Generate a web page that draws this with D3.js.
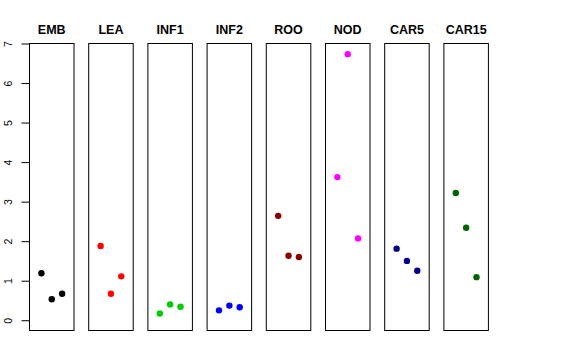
<!DOCTYPE html>
<html><head><meta charset="utf-8">
<script src="https://cdn.jsdelivr.net/npm/d3@7"></script>
<style>body{margin:0;background:#fff}</style>
</head><body>
<svg id="c" width="576" height="360"></svg>
<script>
const categories = ["EMB","LEA","INF1","INF2","ROO","NOD","CAR5","CAR15"];
const colors = ["#000000","#FF0000","#00CD00","#0000FF","#8B0000","#FF00FF","#00008B","#006400"];
const values = [
  [1.19, 0.53, 0.67],
  [1.88, 0.67, 1.11],
  [0.17, 0.40, 0.34],
  [0.25, 0.37, 0.33],
  [2.64, 1.63, 1.60],
  [3.62, 6.73, 2.07],
  [1.81, 1.50, 1.25],
  [3.22, 2.34, 1.09]
];
const yTicks = [0,1,2,3,4,5,6,7];

(function(){
const svg = d3.select("#c");
const pTop = 43.5, pBottom = 330.5;
const y = d3.scaleLinear().domain([-0.26, 7]).range([pBottom, pTop]);
const panelX = d3.scaleBand().domain(categories).range([29.5, 488.4]).paddingInner(0.248).paddingOuter(0);
const pw = panelX.bandwidth();

const ax = svg.append("g").attr("transform","translate(29.5,0)")
  .call(d3.axisLeft(y).tickValues(yTicks).tickSize(8).tickSizeOuter(0).tickFormat(d3.format("d")));
ax.select(".domain").attr("d", `M0,${y(0)}V${y(7)}`).attr("stroke","#000");
ax.selectAll(".tick line").attr("stroke","#000");
ax.selectAll(".tick text")
  .attr("font-family","Liberation Sans, Arial, sans-serif").attr("font-size",10.5).attr("fill","#000")
  .attr("x",0).attr("dy",0).attr("text-anchor","middle")
  .attr("transform", `translate(-18,0) rotate(-90)`);

categories.forEach((cat, i) => {
  const g = svg.append("g").attr("transform", `translate(${panelX(cat)},0)`);
  const x = d3.scaleLinear().domain([-0.15, 4.15]).range([0, pw]);
  g.append("rect").attr("x",0).attr("y",pTop).attr("width",pw).attr("height",pBottom-pTop)
    .attr("fill","none").attr("stroke","#000").attr("stroke-width",1);
  g.append("text").attr("x",pw/2).attr("y",33.5).attr("text-anchor","middle")
    .attr("font-family","Liberation Sans, Arial, sans-serif").attr("font-weight","bold")
    .attr("font-size",12.5).text(cat);
  g.selectAll("circle").data(values[i]).join("circle")
    .attr("cx",(d,j)=>x(j+1)).attr("cy",d=>y(d)).attr("r",3.2).attr("fill",colors[i]);
});
})();
</script>
</body></html>
